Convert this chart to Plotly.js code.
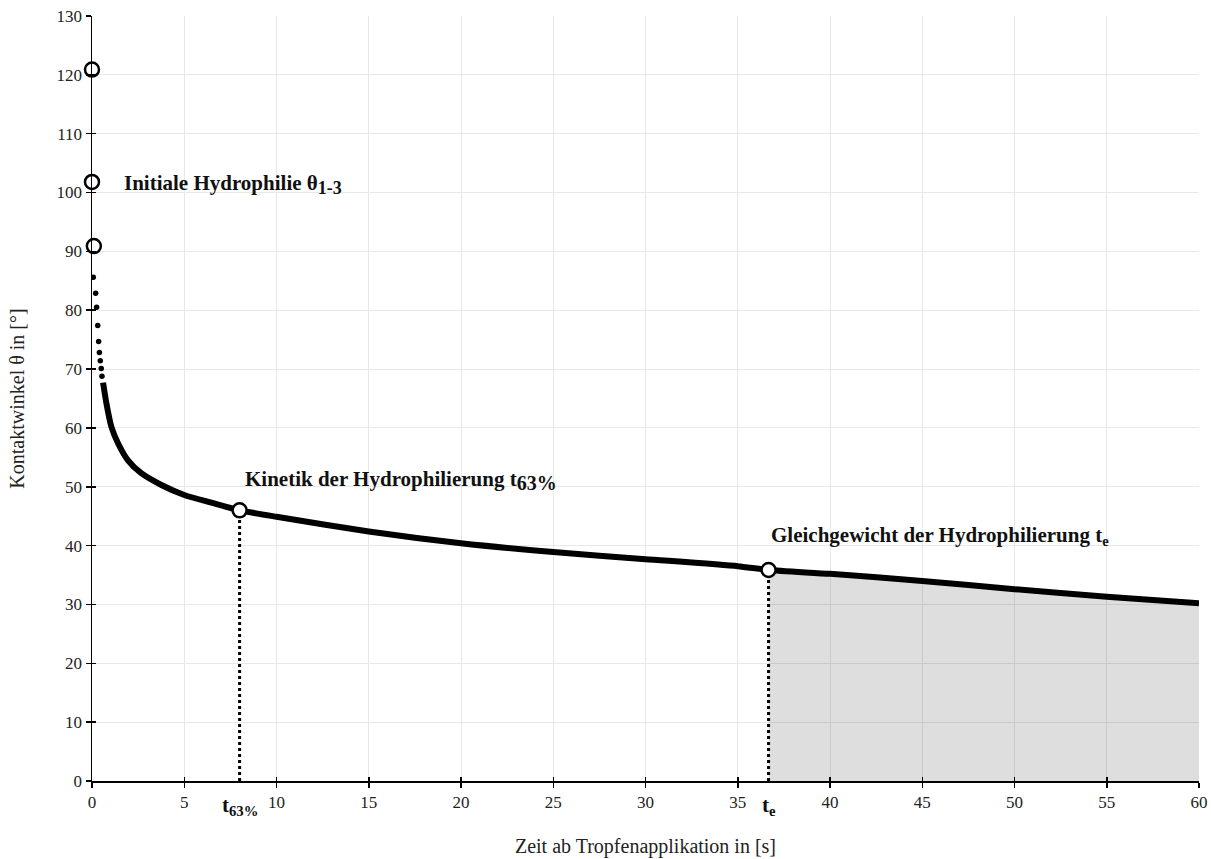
<!DOCTYPE html>
<html>
<head>
<meta charset="utf-8">
<script src="https://cdn.plot.ly/plotly-3.0.1.min.js"></script>
<style>html,body{margin:0;padding:0;background:#fff;}#chart{width:1211px;height:859px;}</style>
</head>
<body>
<div id="chart"></div>
<script>
// Initial contact angles (open circles at t ≈ 0)
const initT = [0, 0, 0.1];
const initTheta = [120.9, 101.8, 90.9];

// Early sparse measurement dots
const dotT = [0.07, 0.2, 0.25, 0.31, 0.36, 0.40, 0.45, 0.5, 0.54];
const dotTheta = [85.6, 82.9, 80.5, 77.4, 74.7, 72.8, 71.4, 70.1, 68.8];

const curveT = [0.6, 0.78, 1.05, 1.41, 1.95, 2.67, 3.76, 5.0, 6.47, 8.0, 10, 15, 20, 25, 30, 35, 36.67, 40, 45, 50, 55, 60];
const curveTheta = [67.7, 64.2, 60.2, 57.4, 54.5, 52.3, 50.3, 48.6, 47.3, 46.0, 44.9, 42.4, 40.4, 38.9, 37.7, 36.5, 35.85, 35.2, 34.0, 32.6, 31.3, 30.2];

// Characteristic points
const t63 = 8.0, theta63 = 46.0;
const tE = 36.67, thetaE = 35.85;

const xTicks = [0, 5, 10, 15, 20, 25, 30, 35, 40, 45, 50, 55, 60];
const yTicks = [0, 10, 20, 30, 40, 50, 60, 70, 80, 90, 100, 110, 120, 130];

const serif = "Liberation Serif, Times New Roman, serif";

// Equilibrium region (subset of curve)
const eqT = [], eqTheta = [];
curveT.forEach((t, i) => { if (t >= tE) { eqT.push(t); eqTheta.push(curveTheta[i]); } });

const traces = [
  { x: eqT, y: eqTheta, type: 'scatter', mode: 'none', fill: 'tozeroy',
    fillcolor: 'rgba(0,0,0,0.13)', hoverinfo: 'skip', showlegend: false },
  { x: [t63, t63], y: [0, theta63], type: 'scatter', mode: 'lines',
    line: { color: '#000', width: 3, dash: 'dot' }, showlegend: false },
  { x: [tE, tE], y: [0, thetaE], type: 'scatter', mode: 'lines',
    line: { color: '#000', width: 3, dash: 'dot' }, showlegend: false },
  { x: curveT, y: curveTheta, type: 'scatter', mode: 'lines',
    line: { color: '#000', width: 6, shape: 'spline', smoothing: 0.6 }, showlegend: false },
  { x: dotT, y: dotTheta, type: 'scatter', mode: 'markers',
    marker: { color: '#000', size: 5.5 }, showlegend: false },
  { x: initT.concat([t63, tE]), y: initTheta.concat([theta63, thetaE]), type: 'scatter', mode: 'markers',
    marker: { color: '#fff', size: 14, line: { color: '#000', width: 2.5 } }, showlegend: false, cliponaxis: false },
  // dummy trace for crossing (inside) ticks
  { x: [0], y: [0], xaxis: 'x2', yaxis: 'y2', mode: 'markers', marker: { opacity: 0 }, hoverinfo: 'skip', showlegend: false }
];

const tickFont = { family: serif, size: 17, color: '#222' };
const titleFont = { family: serif, size: 20, color: '#222' };
const annFont = { family: serif, size: 21, color: '#111' };

const layout = {
  width: 1211, height: 859,
  margin: { l: 92, r: 12, t: 16, b: 78 },
  paper_bgcolor: '#fff', plot_bgcolor: '#fff',
  font: { family: serif },
  xaxis: {
    range: [0, 60], tickvals: xTicks, ticktext: xTicks.map(String),
    showgrid: true, gridcolor: '#e8e8e8', gridwidth: 1,
    zeroline: false, showline: true, linecolor: '#000', linewidth: 1.5,
    ticks: 'outside', ticklen: 5, tickwidth: 1.5, tickcolor: '#000',
    tickfont: tickFont,
    title: { text: 'Zeit ab Tropfenapplikation in [s]', font: titleFont, standoff: 28 }
  },
  yaxis: {
    range: [0, 130], tickvals: yTicks, ticktext: yTicks.map(String),
    showgrid: true, gridcolor: '#e8e8e8', gridwidth: 1,
    zeroline: false, showline: true, linecolor: '#000', linewidth: 1.5,
    ticks: 'outside', ticklen: 5, tickwidth: 1.5, tickcolor: '#000',
    tickfont: tickFont,
    title: { text: 'Kontaktwinkel θ in [°]', font: titleFont, standoff: 26 }
  },
  xaxis2: { overlaying: 'x', range: [0, 60], tickvals: xTicks, showticklabels: false, showgrid: false,
    zeroline: false, ticks: 'inside', ticklen: 4, tickwidth: 1.5, tickcolor: '#000', side: 'bottom' },
  yaxis2: { overlaying: 'y', range: [0, 130], tickvals: yTicks, showticklabels: false, showgrid: false,
    zeroline: false, ticks: 'inside', ticklen: 4, tickwidth: 1.5, tickcolor: '#000', side: 'left' },
  annotations: [
    { x: 1.61, y: 101.3, xref: 'x', yref: 'y', xanchor: 'left', yanchor: 'middle', showarrow: false,
      text: '<b>Initiale Hydrophilie θ<sub><span style="font-size:18px">1-3</span></sub></b>', font: annFont },
    { x: 8.19, y: 51.0, xref: 'x', yref: 'y', xanchor: 'left', yanchor: 'middle', showarrow: false,
      text: '<b>Kinetik der Hydrophilierung t<sub><span style="font-size:20px">63%</span></sub></b>', font: annFont },
    { x: 36.7, y: 41.6, xref: 'x', yref: 'y', xanchor: 'left', yanchor: 'middle', showarrow: false,
      text: '<b>Gleichgewicht der Hydrophilierung t<sub>e</sub></b>', font: annFont },
    { x: t63, y: 0, xref: 'x', yref: 'paper', xanchor: 'center', yanchor: 'top', yshift: -10, showarrow: false,
      text: '<b>t<sub>63%</sub></b>', font: annFont },
    { x: tE, y: 0, xref: 'x', yref: 'paper', xanchor: 'center', yanchor: 'top', yshift: -10, showarrow: false,
      text: '<b>t<sub>e</sub></b>', font: annFont }
  ]
};

Plotly.newPlot('chart', traces, layout, { displayModeBar: false, staticPlot: true });
</script>
</body>
</html>
